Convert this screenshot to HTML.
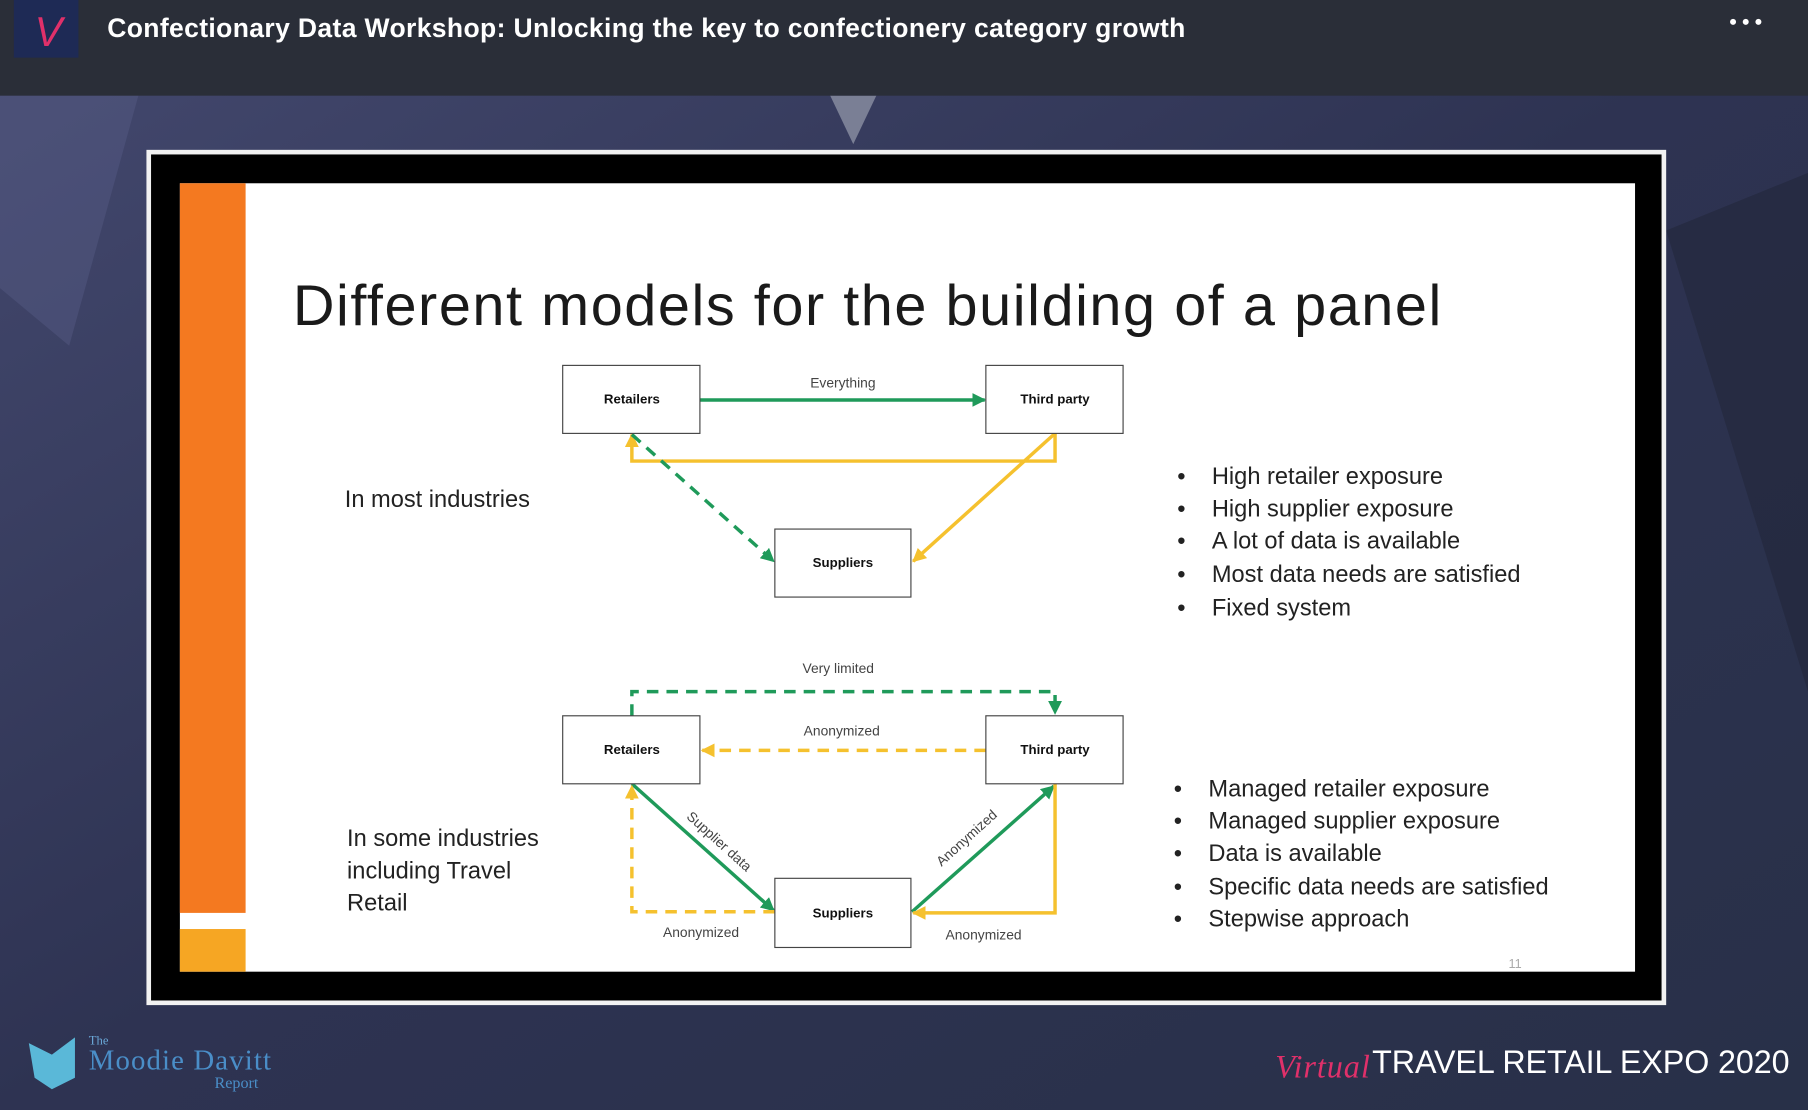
<!DOCTYPE html>
<html><head><meta charset="utf-8"><style>
html,body{margin:0;padding:0;width:1808px;height:1110px;overflow:hidden;background:#2b3148}
svg{display:block}
</style></head><body>
<svg width="1808" height="1110" viewBox="0 0 1568 963" preserveAspectRatio="none" xmlns="http://www.w3.org/2000/svg" font-family="'Liberation Sans', sans-serif">
<defs>
<linearGradient id="bg" x1="0" y1="0" x2="1" y2="1">
<stop offset="0" stop-color="#44496f"/><stop offset="0.5" stop-color="#2e3352"/><stop offset="1" stop-color="#283048"/>
</linearGradient>
<marker id="ag" viewBox="0 0 10 10" refX="9" refY="5" markerWidth="4" markerHeight="4" orient="auto"><path d="M0,0L10,5L0,10z" fill="#1f9a5a"/></marker>
<marker id="ay" viewBox="0 0 10 10" refX="9" refY="5" markerWidth="4" markerHeight="4" orient="auto"><path d="M0,0L10,5L0,10z" fill="#f5c12e"/></marker>
</defs>
<rect width="1568" height="963" fill="url(#bg)"/>
<polygon points="0,83 120,83 60,300 0,250" fill="#5a5f8a" opacity="0.4"/>
<polygon points="720,83 760,83 740,125" fill="#7a7f95"/>
<polygon points="1445,200 1568,150 1568,600" fill="#1f2335" opacity="0.5"/>
<rect x="0" y="0" width="1568" height="83" fill="#2a2e38"/>
<rect x="12" y="0" width="56" height="50" fill="#1e2a55"/>
<text x="30" y="40" font-size="36" fill="#e0306a" font-style="italic">V</text>
<text x="93" y="32" font-size="23" font-weight="bold" fill="#fff" textLength="935">Confectionary Data Workshop: Unlocking the key to confectionery category growth</text>
<circle cx="1503" cy="19" r="2.6" fill="#fff"/><circle cx="1514" cy="19" r="2.6" fill="#fff"/><circle cx="1525" cy="19" r="2.6" fill="#fff"/>
<rect x="127" y="130" width="1318" height="742" fill="#f2f2f2"/>
<rect x="131" y="134" width="1310" height="734" fill="#000"/>
<rect x="156" y="159" width="1262" height="684" fill="#fff"/>
<rect x="156" y="159" width="57" height="633" fill="#f47920"/>
<rect x="156" y="806" width="57" height="37" fill="#f6a623"/>
<text x="254" y="282" font-size="50" fill="#1a1a1a" textLength="996">Different models for the building of a panel</text>
<g fill="none" stroke-width="3">
<line x1="607" y1="347" x2="854" y2="347" stroke="#1f9a5a" marker-end="url(#ag)"/>
<polyline points="915,376 915,400 548,400 548,377" stroke="#f5c12e" marker-end="url(#ay)"/>
<line x1="915" y1="376" x2="792" y2="487" stroke="#f5c12e" marker-end="url(#ay)"/>
<line x1="548" y1="377" x2="671" y2="487" stroke="#1f9a5a" stroke-dasharray="10,7" marker-end="url(#ag)"/>
<polyline points="548,621 548,600 915,600 915,619" stroke="#1f9a5a" stroke-dasharray="10,7" marker-end="url(#ag)"/>
<line x1="855" y1="651" x2="609" y2="651" stroke="#f5c12e" stroke-dasharray="10,7" marker-end="url(#ay)"/>
<line x1="548" y1="680" x2="671" y2="790" stroke="#1f9a5a" marker-end="url(#ag)"/>
<line x1="791" y1="791" x2="914" y2="682" stroke="#1f9a5a" marker-end="url(#ag)"/>
<polyline points="672,791 548,791 548,682" stroke="#f5c12e" stroke-dasharray="10,7" marker-end="url(#ay)"/>
<polyline points="915,680 915,792 792,792" stroke="#f5c12e" marker-end="url(#ay)"/>
</g>
<g fill="#fff" stroke="#444" stroke-width="1">
<rect x="488" y="317" width="119" height="59"/><rect x="855" y="317" width="119" height="59"/><rect x="672" y="459" width="118" height="59"/>
<rect x="488" y="621" width="119" height="59"/><rect x="855" y="621" width="119" height="59"/><rect x="672" y="762" width="118" height="60"/>
</g>
<g font-size="11.5" font-weight="bold" fill="#111" text-anchor="middle">
<text x="548" y="350">Retailers</text><text x="915" y="350">Third party</text><text x="731" y="492">Suppliers</text>
<text x="548" y="654">Retailers</text><text x="915" y="654">Third party</text><text x="731" y="796">Suppliers</text>
</g>
<g font-size="12" fill="#444" text-anchor="middle">
<text x="731" y="336">Everything</text>
<text x="727" y="584">Very limited</text>
<text x="730" y="638">Anonymized</text>
<text x="608" y="813">Anonymized</text>
<text x="853" y="815">Anonymized</text>
<text transform="translate(621,733) rotate(42)">Supplier data</text>
<text transform="translate(841,730) rotate(-42)">Anonymized</text>
</g>
<g font-size="20.5" fill="#222">
<text x="299" y="440">In most industries</text>
<text x="301" y="734">In some industries</text>
<text x="301" y="762">including Travel</text>
<text x="301" y="790">Retail</text>
<g><text x="1021" y="420">•</text><text x="1051" y="420">High retailer exposure</text>
<text x="1021" y="448">•</text><text x="1051" y="448">High supplier exposure</text>
<text x="1021" y="476">•</text><text x="1051" y="476">A lot of data is available</text>
<text x="1021" y="505">•</text><text x="1051" y="505">Most data needs are satisfied</text>
<text x="1021" y="534">•</text><text x="1051" y="534">Fixed system</text></g>
<g><text x="1018" y="691">•</text><text x="1048" y="691">Managed retailer exposure</text>
<text x="1018" y="719">•</text><text x="1048" y="719">Managed supplier exposure</text>
<text x="1018" y="747">•</text><text x="1048" y="747">Data is available</text>
<text x="1018" y="776">•</text><text x="1048" y="776">Specific data needs are satisfied</text>
<text x="1018" y="804">•</text><text x="1048" y="804">Stepwise approach</text></g>
</g>
<text x="1314" y="840" font-size="11" fill="#aaa" text-anchor="middle">11</text>
<polygon points="25,905 45,915 65,900 65,935 45,945 30,935" fill="#5ab8d8"/>
<text x="77" y="906" font-size="11" fill="#6aa8d8" font-family="'Liberation Serif', serif">The</text>
<text x="77" y="928" font-size="25" fill="#4a8ec8" font-family="'Liberation Serif', serif" textLength="158">Moodie Davitt</text>
<text x="186" y="944" font-size="14" fill="#4a8ec8" font-family="'Liberation Serif', serif">Report</text>
<text x="1106" y="935" font-size="28" fill="#e0306a" font-style="italic" font-family="'Liberation Serif', serif" textLength="82">Virtual</text>
<text x="1190" y="931" font-size="28" fill="#fff" textLength="362">TRAVEL RETAIL EXPO 2020</text>
</svg>
</body></html>
